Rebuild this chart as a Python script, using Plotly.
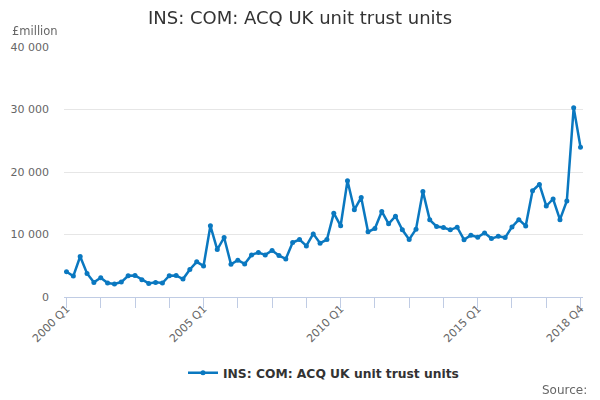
import plotly.graph_objects as go

years = list(range(2000, 2019))
quarters = [f"{y} Q{q}" for y in years for q in range(1, 5)]
positions = list(range(len(quarters)))

values = [
    4030, 3350, 6480, 3770, 2340, 3080, 2230, 2070, 2390, 3400,
    3450, 2760, 2180, 2340, 2230, 3400, 3450, 2870, 4410, 5630,
    4970, 11390, 7590, 9520, 5240, 5880, 5290, 6740, 7110, 6740,
    7430, 6630, 6100, 8710, 9190, 8180, 10100, 8610, 9190, 13420,
    11390, 18610, 13950, 15930, 10430, 10960, 13690, 11710, 12940, 10750,
    9190, 10860, 16900, 12350, 11280, 11120, 10750, 11170, 9170, 9890,
    9570, 10260, 9350, 9720, 9510, 11210, 12380, 11370, 17000, 18020,
    14560, 15680, 12380, 15360, 30300, 23970,
]

tick_labels = ["2000 Q1", "2005 Q1", "2010 Q1", "2015 Q1", "2018 Q4"]
tick_positions = [quarters.index(t) for t in tick_labels]
tick_mark_positions = positions[::5]

y_ticks = [0, 10000, 20000, 30000, 40000]
y_tick_labels = ["0", "10 000", "20 000", "30 000", "40 000"]

series_name = "INS: COM: ACQ UK unit trust units"
color = "#0a78c0"
axis_color = "#c0cce4"
font = "DejaVu Sans"
x_range = [-0.36, 75.36]

fig = go.Figure()
fig.add_trace(go.Scatter(
    x=positions, y=values, mode="lines+markers", name=series_name,
    text=quarters, hovertemplate="%{text}: %{y}<extra></extra>",
    line=dict(color=color, width=2.5),
    marker=dict(color=color, size=5),
))
# invisible helper trace so the tick-mark axis is rendered
fig.add_trace(go.Scatter(
    x=positions, y=values, xaxis="x2", mode="markers", opacity=0,
    showlegend=False, hoverinfo="skip",
))

fig.update_layout(
    width=600, height=400,
    margin=dict(l=64, r=17, t=46.5, b=103, autoexpand=False),
    paper_bgcolor="white", plot_bgcolor="white",
    font=dict(family=font, color="#666666", size=11),
    title=dict(text=series_name, x=0.5, xref="container", xanchor="center",
               y=1 - 18 / 400, yref="container", yanchor="middle",
               font=dict(family=font, size=18, color="#333333")),
    showlegend=True,
    legend=dict(orientation="h", x=0.5, xanchor="center", y=-0.303, yanchor="middle",
                font=dict(family=font, size=12.3, color="#333333", weight="bold"),
                itemwidth=30),
    xaxis=dict(
        range=x_range, automargin=False,
        tickmode="array", tickvals=tick_positions, ticktext=tick_labels,
        tickangle=-45, ticks="",
        showline=True, linecolor=axis_color, linewidth=1,
        showgrid=False, zeroline=False,
        tickfont=dict(family=font, size=11, color="#666666"),
    ),
    xaxis2=dict(
        range=x_range, automargin=False, overlaying="x", anchor="y", side="bottom",
        tickmode="array", tickvals=tick_mark_positions, showticklabels=False,
        ticks="outside", ticklen=10, tickwidth=1, tickcolor=axis_color,
        showline=True, linecolor=axis_color, linewidth=1,
        showgrid=False, zeroline=False,
    ),
    yaxis=dict(
        range=[0, 40000], tickmode="array", tickvals=y_ticks, ticktext=y_tick_labels,
        automargin=False,
        showgrid=True, gridcolor="#e6e6e6", gridwidth=1, zeroline=False,
        showline=False, ticks="", ticklabelstandoff=14,
        tickfont=dict(family=font, size=11, color="#666666"),
    ),
    annotations=[
        dict(text="£million", xref="paper", yref="paper", x=-0.104, y=1.062,
             xanchor="left", yanchor="middle", showarrow=False,
             font=dict(family=font, size=11.5, color="#666666")),
        dict(text="Source:", xref="paper", yref="paper", x=1.0116, y=-0.371,
             xanchor="right", yanchor="middle", showarrow=False,
             font=dict(family=font, size=12, color="#666666")),
    ],
)

fig.write_html(
    "out.html",
    config={"displayModeBar": False},
    post_script="document.body.style.margin='0';document.body.style.overflow='hidden';",
)
